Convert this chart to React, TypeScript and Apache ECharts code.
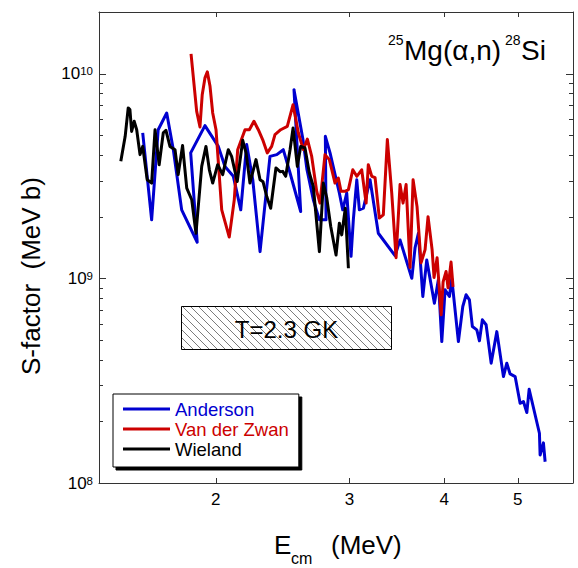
import React, { useEffect, useRef } from "react";
import * as echarts from "echarts";

const FONT = '"Liberation Sans", Arial, Helvetica, sans-serif';

// axis ranges (data units)
const E_MIN = 1.404; // MeV
const E_MAX = 5.91; // MeV
const S_MIN = 1e8; // MeV b
const S_MAX = 2e10; // MeV b
const X_TICKS = [2, 3, 4, 5];
const Y_DECADES = [1e8, 1e9, 1e10];
const Y_MINOR = [2e8, 3e8, 4e8, 5e8, 6e8, 7e8, 8e8, 9e8, 2e9, 3e9, 4e9, 5e9, 6e9, 7e9, 8e9, 9e9];

// Gamow window T=2.3 GK (MeV) and band drawn (MeV b)
const GAMOW_E = [1.80, 3.40];
const GAMOW_S = [4.52e8, 7.34e8];

const S_UNIT = 1e9; // S values below are in 10^9 MeV b

const andersonE = [1.603, 1.647, 1.680, 1.724, 1.759, 1.804, 1.891, 1.854, 1.936, 2.016, 2.057, 2.110, 2.158, 2.197, 2.238, 2.288, 2.358, 2.407, 2.455, 2.506, 2.588, 2.536, 2.606, 2.638, 2.689, 2.739, 2.795, 2.789, 2.829, 2.910, 2.940, 2.976, 3.015, 3.036, 3.068, 3.092, 3.130, 3.194, 3.275, 3.445, 3.498, 3.625, 3.661, 3.698, 3.748, 3.793, 3.882, 3.929, 3.970, 4.010, 4.063, 4.092, 4.175, 4.231, 4.274, 4.317, 4.356, 4.415, 4.450, 4.490, 4.541, 4.611, 4.691, 4.786, 4.835, 4.884, 4.959, 5.034, 5.085, 5.138, 5.174, 5.338, 5.349, 5.403, 5.431];
const andersonS = [5.13, 1.93, 5.32, 6.42, 4.25, 2.16, 1.50, 4.10, 5.57, 4.41, 3.52, 3.15, 2.16, 4.50, 3.03, 1.35, 3.94, 4.02, 4.25, 3.27, 2.12, 8.35, 4.76, 3.39, 2.42, 1.93, 1.93, 4.94, 4.10, 2.61, 2.16, 2.61, 1.28, 1.93, 3.03, 2.16, 2.20, 3.03, 1.66, 1.29, 1.54, 1.00, 1.41, 1.66, 0.815, 1.23, 0.756, 0.983, 0.491, 0.879, 0.815, 1.00, 0.491, 0.728, 0.831, 0.785, 0.581, 0.560, 0.495, 0.627, 0.593, 0.385, 0.549, 0.331, 0.385, 0.341, 0.331, 0.245, 0.250, 0.221, 0.287, 0.175, 0.137, 0.157, 0.127];

const vdzE = [1.856, 1.888, 1.907, 1.920, 1.936, 1.950, 1.966, 1.982, 2.002, 2.037, 2.084, 2.116, 2.138, 2.186, 2.215, 2.246, 2.276, 2.306, 2.339, 2.370, 2.394, 2.436, 2.485, 2.529, 2.570, 2.609, 2.641, 2.676, 2.717, 2.744, 2.786, 2.823, 2.872, 2.901, 2.925, 2.961, 2.991, 3.031, 3.068, 3.114, 3.156, 3.177, 3.211, 3.243, 3.285, 3.325, 3.366, 3.411, 3.456, 3.498, 3.530, 3.563, 3.606, 3.639, 3.683, 3.728, 3.774, 3.808, 3.855, 3.878, 3.914, 3.962, 3.986, 4.022, 4.046, 4.083, 4.108];
const vdzS = [12.5, 6.54, 5.49, 7.89, 9.53, 10.2, 8.67, 6.42, 5.32, 2.16, 1.59, 2.42, 4.25, 5.32, 5.32, 5.85, 5.32, 4.76, 4.10, 4.41, 5.03, 5.32, 5.52, 7.05, 5.13, 4.25, 4.79, 3.94, 2.66, 2.33, 4.02, 3.80, 2.92, 3.09, 2.66, 2.66, 2.71, 3.39, 3.15, 3.39, 2.33, 3.59, 3.15, 3.10, 1.97, 2.04, 4.76, 2.61, 1.26, 2.87, 2.33, 2.87, 1.13, 3.03, 2.24, 1.19, 1.38, 2.00, 1.38, 1.01, 1.26, 0.663, 0.961, 1.08, 0.899, 1.20, 0.909];

const wielandE = [1.50, 1.52, 1.534, 1.542, 1.550, 1.562, 1.574, 1.590, 1.603, 1.625, 1.647, 1.664, 1.685, 1.706, 1.720, 1.741, 1.768, 1.785, 1.809, 1.832, 1.860, 1.884, 1.917, 1.942, 1.962, 1.982, 2.012, 2.043, 2.078, 2.099, 2.135, 2.171, 2.193, 2.219, 2.260, 2.288, 2.309, 2.335, 2.363, 2.401, 2.431, 2.451, 2.473, 2.506, 2.529, 2.562, 2.588, 2.622, 2.657, 2.689, 2.739, 2.772, 2.801, 2.835, 2.881, 2.910, 2.931, 2.963, 2.991];
const wielandS = [3.73, 4.94, 6.80, 6.67, 5.22, 5.85, 5.32, 4.02, 4.41, 3.03, 2.92, 5.32, 3.59, 5.13, 5.28, 4.41, 4.25, 3.21, 4.45, 2.76, 2.42, 1.66, 3.52, 4.41, 3.39, 2.92, 3.59, 3.21, 4.25, 3.94, 2.97, 4.72, 4.10, 2.92, 3.80, 3.03, 2.96, 2.51, 2.20, 3.46, 3.32, 3.33, 3.15, 4.25, 5.43, 3.52, 4.41, 4.33, 3.27, 2.81, 1.35, 2.92, 2.47, 1.79, 1.30, 1.86, 1.63, 2.20, 1.12];

const SERIES_NAMES = ["Anderson", "Van der Zwan", "Wieland"];
const SERIES_COLORS = ["#0000d0", "#cc0000", "#000000"];

const lg = Math.log10;
const toPts = (E: number[], S: number[]) => E.map((e, i) => [lg(e), lg(S[i] * S_UNIT)]);

export default function App() {
  const ref = useRef<HTMLDivElement>(null);
  useEffect(() => {
    if (!ref.current) return;
    const chart = echarts.init(ref.current, undefined, { renderer: "svg" });
    const xMin = lg(E_MIN), xMax = lg(E_MAX), yMin = lg(S_MIN), yMax = lg(S_MAX);
    const xTickVals = X_TICKS.map(lg);
    const yMajor = Y_DECADES.map(lg);
    const yMinor = Y_MINOR.map(lg);
    const axisColor = "#333";
    const xAxisBase = (pos: string, labels: boolean) => ({
      type: "value",
      position: pos,
      min: xMin,
      max: xMax,
      splitLine: { show: false },
      axisLine: { show: true, onZero: false, lineStyle: { color: axisColor, width: 1 } },
      axisTick: { show: false },
      axisLabel: labels
        ? { show: true, customValues: xTickVals, margin: 8, fontSize: 17, color: "#000", fontFamily: FONT, formatter: (v: number) => String(Math.round(Math.pow(10, v))) }
        : { show: false },
    });
    const yAxisBase = (pos: string, labels: boolean) => ({
      type: "value",
      position: pos,
      min: yMin,
      max: yMax,
      splitLine: { show: false },
      axisLine: { show: true, onZero: false, lineStyle: { color: axisColor, width: 1 } },
      axisTick: { show: false },
      axisLabel: labels
        ? {
            show: true,
            customValues: yMajor,
            margin: 6,
            formatter: (v: number) => `{b|10}{s|${Math.round(v)}}`,
            rich: {
              b: { fontSize: 17, color: "#000", fontFamily: FONT },
              s: { fontSize: 11.5, color: "#000", fontFamily: FONT, verticalAlign: "top" },
            },
          }
        : { show: false },
    });

    const series: any[] = [
      { E: andersonE, S: andersonS },
      { E: vdzE, S: vdzS },
      { E: wielandE, S: wielandS },
    ].map((d, i) => ({
      type: "line",
      name: SERIES_NAMES[i],
      data: toPts(d.E, d.S),
      symbol: "none",
      showSymbol: false,
      color: SERIES_COLORS[i],
      lineStyle: { color: SERIES_COLORS[i], width: 3, join: "round" },
      z: 3 + i,
    }));

    // Gamow window box with hatch
    series.unshift({
      type: "custom",
      name: "gamow",
      silent: true,
      z: 2,
      data: [[lg(GAMOW_E[0]), lg(GAMOW_S[1]), lg(GAMOW_E[1]), lg(GAMOW_S[0])]],
      renderItem: (params: any, api: any) => {
        const p0 = api.coord([api.value(0), api.value(1)]);
        const p1 = api.coord([api.value(2), api.value(3)]);
        const x0 = Math.round(p0[0]) + 0.5, y0 = Math.round(p0[1]) + 0.5;
        const x1 = Math.round(p1[0]) + 0.5, y1 = Math.round(p1[1]) + 0.5;
        const w = x1 - x0, h = y1 - y0;
        const children: any[] = [
          { type: "rect", shape: { x: x0, y: y0, width: w, height: h }, style: { fill: "#fff", stroke: "none" } },
        ];
        for (let c = -h + 4; c < w; c += 8) {
          let sx = x0 + c, sy = y0;
          if (c < 0) { sx = x0; sy = y0 - c; }
          let ex = x0 + c + h, ey = y1;
          if (c + h > w) { ex = x1; ey = y0 + (w - c); }
          children.push({ type: "line", shape: { x1: sx, y1: sy, x2: ex, y2: ey }, style: { stroke: "#444", lineWidth: 0.7 } });
        }
        children.push({ type: "rect", shape: { x: x0, y: y0, width: w, height: h }, style: { fill: "none", stroke: "#000", lineWidth: 1 } });
        children.push({
          type: "text",
          style: { text: "T=2.3 GK", x: (x0 + x1) / 2, y: (y0 + y1) / 2 + 1, align: "center", verticalAlign: "middle", textAlign: "center", textVerticalAlign: "middle", font: `24px ${FONT}`, fill: "#000" },
        });
        return { type: "group", children };
      },
    });

    const txt = (x: number, y: number, text: string, size: number, extra: any = {}) => ({
      type: "text",
      x,
      y,
      ...extra,
      style: { text, font: `${size}px ${FONT}`, fill: "#000", align: extra.align || "left", verticalAlign: "middle", textAlign: extra.align || "left", textVerticalAlign: "middle" },
    });

    const option: any = {
      animation: false,
      backgroundColor: "#fff",
      textStyle: { fontFamily: FONT },
      grid: { left: 99, top: 12, width: 474, height: 471, show: false, containLabel: false, outerBoundsMode: "none" },
      xAxis: [xAxisBase("bottom", true), xAxisBase("top", false)],
      yAxis: [yAxisBase("left", true), yAxisBase("right", false)],
      legend: {
        show: true,
        orient: "vertical",
        left: 113,
        top: 394,
        icon: "rect",
        itemWidth: 47,
        itemHeight: 3,
        itemGap: 0,
        padding: [5, 10, 8, 10],
        backgroundColor: "#fff",
        borderColor: "#000",
        borderWidth: 1,
        shadowColor: "#000",
        shadowBlur: 0,
        shadowOffsetX: 3,
        shadowOffsetY: 3,
        selectedMode: false,
        textStyle: { fontSize: 18.5, lineHeight: 20, fontFamily: FONT },
        data: SERIES_NAMES.map((n, i) => ({ name: n, itemStyle: { color: SERIES_COLORS[i] }, textStyle: { color: SERIES_COLORS[i] } })),
      },
      graphic: [
        txt(388, 40, "25", 14),
        txt(404, 50, "Mg(α,n)", 28),
        txt(505, 40, "28", 14),
        txt(521, 50, "Si", 28),
        txt(274, 545, "E", 26),
        txt(291, 558, "cm", 16),
        txt(331, 545, "(MeV)", 26),
        txt(31, 276, "S-factor  (MeV b)", 26, { rotation: Math.PI / 2, align: "center" }),
      ],
      series,
    };
    chart.setOption(option);

    // Frame tick marks (inward, on all four sides), positioned through the chart's own axis scales
    const toPx = (x: number, y: number) => chart.convertToPixel({ xAxisIndex: 0, yAxisIndex: 0 }, [x, y]) as number[];
    const tickEls: any[] = [];
    const st = () => ({ stroke: axisColor, lineWidth: 1 });
    xTickVals.forEach((v) => {
      const b = toPx(v, yMin), t = toPx(v, yMax);
      const x = Math.round(b[0]) + 0.5;
      tickEls.push({ type: "line", z: 100, shape: { x1: x, y1: b[1], x2: x, y2: b[1] - 5 }, style: st() });
      tickEls.push({ type: "line", z: 100, shape: { x1: x, y1: t[1], x2: x, y2: t[1] + 5 }, style: st() });
    });
    const yTick = (v: number, len: number) => {
      const l = toPx(xMin, v), r = toPx(xMax, v);
      const y = Math.round(l[1]) + 0.5;
      tickEls.push({ type: "line", z: 100, shape: { x1: l[0], y1: y, x2: l[0] + len, y2: y }, style: st() });
      tickEls.push({ type: "line", z: 100, shape: { x1: r[0], y1: y, x2: r[0] - len, y2: y }, style: st() });
    };
    yMajor.forEach((v) => yTick(v, 7));
    yMinor.forEach((v) => yTick(v, 4));
    chart.setOption({ graphic: [...option.graphic, ...tickEls] });

    return () => chart.dispose();
  }, []);
  return <div ref={ref} style={{ position: "fixed", left: 0, top: 0, width: 578, height: 568, background: "#fff" }} />;
}
